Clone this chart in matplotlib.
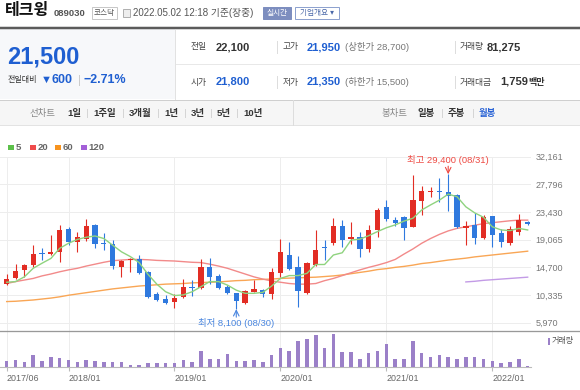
import matplotlib
matplotlib.use('Agg')
import matplotlib.pyplot as plt
from matplotlib.patches import Rectangle
from matplotlib.lines import Line2D
import numpy as np

FONT = ['Liberation Sans', 'Noto Sans CJK KR', 'DejaVu Sans']
plt.rcParams['font.family'] = FONT

# monthly candles, 2017/06 .. 2022/05
opens = [12150, 12950, 14300, 15050, 17000, 16800, 17150, 20700, 18650, 19250,
         21450, 18500, 18400, 14800, 15850, 16000, 14000, 10450, 9650, 9300,
         9950, 11650, 11500, 14800, 13400, 11650, 10600, 9100, 10850, 11100,
         10500, 13750, 16650, 14800, 10700, 15050, 17950, 18500, 21250, 19100,
         19450, 17600, 20600, 24150, 22150, 22600, 21100, 25200, 26550, 26800,
         26550, 26050, 20850, 21400, 19300, 22800, 20150, 18500, 20300, 21800]
highs = [13650, 15150, 15200, 18300, 17700, 19750, 21400, 21000, 20300, 22400,
         21500, 20050, 19000, 15850, 16100, 16650, 14150, 10750, 10350, 10450,
         12850, 12700, 15950, 16200, 13650, 11900, 10700, 11100, 12700, 11300,
         14550, 19250, 18650, 16550, 15600, 20600, 19000, 22550, 22250, 21900,
         20350, 21400, 24000, 25300, 22600, 22800, 29250, 27550, 27450, 28750,
         29400, 26250, 22050, 23200, 22950, 22800, 20700, 21250, 23100, 21950]
lows = [11900, 12800, 13200, 14800, 15850, 16650, 15600, 18200, 17150, 18900,
        17700, 17450, 14400, 13200, 14000, 13650, 9900, 9450, 8900, 8250,
        9900, 10250, 11350, 12050, 11300, 10500, 8100, 8950, 10750, 10050,
        9700, 13200, 14300, 8500, 10500, 14900, 15850, 18200, 17950, 18400,
        16400, 17050, 19550, 22050, 21200, 19000, 21000, 22950, 25850, 25050,
        23650, 20850, 18200, 18400, 19100, 17850, 17950, 18200, 19800, 21350]
closes = [12850, 14150, 15050, 16800, 16800, 17050, 20600, 18650, 19450, 21250,
          18350, 18400, 14900, 15750, 16000, 13750, 10050, 9550, 9150, 9900,
          11550, 11500, 14800, 13250, 11450, 10600, 9400, 10950, 11250, 10500,
          13900, 17050, 14450, 10950, 15450, 17450, 17700, 21250, 19000, 19450,
          17550, 20600, 23750, 22300, 21750, 20850, 25300, 26800, 26650, 26550,
          26000, 21000, 21250, 19300, 22700, 19800, 18750, 20700, 22250, 21500]

ma5 = [12350, 12450, 13200, 14550, 15350, 16100, 17700, 18500, 19100, 19450,
       19650, 19250, 18200, 17150, 16400, 15450, 13600, 12050, 10850, 10250,
       10350, 10850, 11650, 12450, 12450, 11900, 11100, 10600, 10600, 10750,
       11750, 12950, 13400, 13400, 13750, 15150, 15150, 16650, 17000, 19000,
       19150, 19700, 20350, 20950, 21400, 22000, 22450, 23750, 24550, 25300,
       26250, 25850, 24250, 23300, 22600, 21100, 20600, 20500, 20850, 20600]
ma20 = [12150, 12450, 12700, 12950, 13350, 13650, 14000, 14300, 14550, 14900,
        15200, 15500, 15750, 15850, 15950, 15950, 15900, 15800, 15750, 15700,
        15600, 15500, 15450, 15200, 14900, 14550, 14100, 13650, 13200, 12850,
        12550, 12350, 12150, 12050, 12050, 12150, 12600, 12950, 13400, 13850,
        14300, 14700, 15050, 15450, 15950, 16800, 17600, 18500, 19250, 19900,
        20450, 20850, 21100, 21350, 21600, 21750, 21900, 22050, 22150, 22150]
ma60 = [9300, 9350, 9450, 9550, 9700, 9850, 10050, 10300, 10500, 10700,
        10900, 11100, 11300, 11450, 11600, 11750, 11850, 11950, 12050, 12100,
        12150, 12250, 12300, 12350, 12400, 12500, 12600, 12650, 12750, 12800,
        12850, 12950, 13000, 13050, 13100, 13150, 13250, 13350, 13500, 13700,
        13900, 14100, 14350, 14500, 14700, 14850, 15050, 15300, 15450, 15650,
        15850, 16000, 16150, 16350, 16500, 16650, 16800, 16950, 17100, 17250]
ma120_start = 52
ma120 = [12400, 12500, 12650, 12750, 12850, 12950, 13050, 13150]

# relative monthly volume (bar heights)
volume = [17, 19, 14, 34, 17, 27, 25, 20, 14, 19, 17, 15, 15, 13, 7, 7, 12, 12, 12, 10,
          19, 13, 45, 22, 24, 37, 17, 17, 19, 14, 35, 54, 45, 74, 79, 92, 54, 94, 42, 42,
          22, 40, 45, 65, 24, 22, 75, 40, 27, 35, 29, 22, 27, 27, 24, 17, 12, 15, 22, 2]

tick_idx = [0, 7, 19, 31, 43, 55]
tick_labels = ['2017/06', '2018/01', '2019/01', '2020/01', '2021/01', '2022/01']
price_ticks = [5970, 10335, 14700, 19065, 23430, 27796, 32161]

W, H = 580, 390
fig = plt.figure(figsize=(W / 100, H / 100), dpi=100)
fig.patch.set_facecolor('white')


def fx(x):
    return x / W


def fy(y):
    return 1 - y / H


def txt(x, y, s, size=7, color='#333333', weight='normal', ha='left'):
    fig.text(fx(x), fy(y), s, fontsize=size, color=color, fontweight=weight,
             ha=ha, va='center', family=FONT)


def box(x0, y0, x1, y1, fc='none', ec='none', lw=1.0):
    fig.add_artist(Rectangle((fx(x0), fy(y1)), (x1 - x0) / W, (y1 - y0) / H,
                             transform=fig.transFigure, facecolor=fc,
                             edgecolor=ec, linewidth=lw * 0.72))


def hline(y, x0, x1, color, lw=1.0):
    fig.add_artist(Line2D([fx(x0), fx(x1)], [fy(y), fy(y)], color=color,
                          lw=lw * 0.72, transform=fig.transFigure))


def vline(x, y0, y1, color, lw=1.0):
    fig.add_artist(Line2D([fx(x), fx(x)], [fy(y0), fy(y1)], color=color,
                          lw=lw * 0.72, transform=fig.transFigure))


# ---- header
txt(5, 11, '테크윙', size=11.5, color='#111111', weight='bold')
txt(54, 13, '089030', size=6.8, color='#555555', weight='bold')
box(92, 7, 117, 19, fc='white', ec='#c8c8c8')
txt(104.5, 13, '코스닥', size=5.5, color='#555555', ha='center')
box(123, 9, 130, 17, fc='#eeeeee', ec='#b0b0b0')
txt(133, 13, '2022.05.02 12:18 기준(장중)', size=7, color='#555555')
box(263, 7, 291, 19, fc='#7d8ebf', ec='#7d8ebf')
txt(277, 13, '실시간', size=5.5, color='white', ha='center')
box(295, 7, 339, 19, fc='white', ec='#8ea2cf')
txt(317, 13, '기업개요 ▾', size=5.5, color='#4a68a8', ha='center')
hline(28, 0, 580, '#5b5b5b', lw=2.5)

# ---- quote panel
box(0, 29.5, 175, 99, fc='#f7f8fa')
vline(175, 29.5, 99, '#e2e2e2')
hline(64, 176, 580, '#e8e8e8')
hline(99.5, 0, 580, '#cfcfcf')
blue = '#1f5fd1'
txt(7, 57, '21,500', size=17, color=blue, weight='bold')
txt(8, 80, '전일대비', size=5.8, color='#333333')
txt(41, 80, '▼', size=8, color=blue)
txt(51, 80, '600', size=9, color=blue, weight='bold')
vline(79, 75, 85, '#cccccc')
txt(84, 80, '−2.71%', size=9, color=blue, weight='bold')

for y in (47, 82):
    vline(277, y - 6, y + 6, '#dddddd')
    vline(455, y - 6, y + 6, '#dddddd')
lab = dict(size=6.3, color='#444444')
txt(191, 47, '전일', **lab)
txt(216, 47, '22,100', size=8, color='#333333', weight='bold')
txt(283, 47, '고가', **lab)
txt(307, 47, '21,950', size=8, color=blue, weight='bold')
txt(345, 47, '(상한가 28,700)', size=6.8, color='#777777')
txt(460, 47, '거래량', **lab)
txt(487, 47, '81,275', size=8, color='#333333', weight='bold')
txt(191, 82, '시가', **lab)
txt(216, 82, '21,800', size=8, color=blue, weight='bold')
txt(283, 82, '저가', **lab)
txt(307, 82, '21,350', size=8, color=blue, weight='bold')
txt(345, 82, '(하한가 15,500)', size=6.8, color='#777777')
txt(460, 82, '거래대금', **lab)
txt(500, 82, '1,759', size=8, color='#333333', weight='bold')
txt(528, 82, '백만', size=6.5, color='#333333', weight='bold')

# ---- nav bar
box(0, 100, 580, 125, fc='#f6f6f6')
hline(125, 0, 580, '#e3e3e3')
vline(293, 100, 125, '#dddddd')
txt(30, 113, '선차트', size=6.8, color='#888888')
for x, s in [(67, '1일'), (93, '1주일'), (129, '3개월'), (164, '1년'),
             (191, '3년'), (217, '5년'), (243, '10년')]:
    txt(x, 113, s, size=6.8, color='#333333', weight='bold')
for x in (87, 123, 158, 185, 211, 237):
    vline(x, 109, 117, '#d5d5d5')
txt(381, 113, '봉차트', size=6.8, color='#888888')
txt(418, 113, '일봉', size=6.8, color='#333333', weight='bold')
vline(442, 109, 117, '#d5d5d5')
txt(448, 113, '주봉', size=6.8, color='#333333', weight='bold')
vline(473, 109, 117, '#d5d5d5')
txt(479, 113, '월봉', size=6.8, color='#2b64d6', weight='bold')

# ---- MA legend
leg = [('5', '#5cc04a', 8), ('20', '#ef4b4b', 30), ('60', '#f7931e', 55), ('120', '#a35fd8', 81)]
for s, c, lx in leg:
    box(lx, 145, lx + 5.5, 150.5, fc=c)
    txt(lx + 7.5, 148, s, size=6.8, color='#666666', weight='bold')

# ---- price chart
x = np.arange(len(closes))
x0_idx = -6.7 / 8.83
x1_idx = (531 - 6.7) / 8.83
ax = fig.add_axes([0, fy(331), 531 / W, (331 - 156.7) / H])
ax.set_xlim(x0_idx, x1_idx)
ax.set_ylim(4656, 32161)
ax.set_yticks(price_ticks)
ax.set_yticklabels([f'{v:,}' for v in price_ticks])
ax.yaxis.tick_right()
ax.tick_params(axis='y', length=0, pad=3, labelsize=6.5, labelcolor='#777777')
ax.set_xticks(tick_idx)
ax.tick_params(axis='x', length=0, labelbottom=False)
ax.grid(True, color='#ededed', lw=0.7)
ax.set_axisbelow(True)
for sp in ax.spines.values():
    sp.set_visible(False)
ax.patch.set_alpha(0)

ax.plot(x, ma60, color='#f9a655', lw=1.0, zorder=2)
ax.plot(x, ma20, color='#f28a8a', lw=1.0, zorder=2)
ax.plot(x[ma120_start:], ma120, color='#c39be6', lw=1.0, zorder=2)

up_c, dn_c = '#e22d24', '#2f79de'
for i in range(len(closes)):
    o, h, l, c = opens[i], highs[i], lows[i], closes[i]
    col = up_c if c >= o else dn_c
    ax.vlines(i, l, h, color=col, lw=0.8, zorder=3)
    bot = min(o, c)
    hgt = max(abs(c - o), 160)
    ax.bar(i, hgt, bottom=bot, width=0.6, color=col, zorder=4)

ax.plot(x, ma5, color='#8fd37f', lw=1.0, zorder=5)

hi_i, lo_i = 50, 26
ax.annotate('', xy=(hi_i, highs[hi_i]), xytext=(0, 8), textcoords='offset pixels',
            arrowprops=dict(arrowstyle='->', color='#ee4a43', lw=0.8, shrinkA=0, shrinkB=0))
ax.annotate('최고 29,400 (08/31)', xy=(hi_i, highs[hi_i]), xytext=(0, 14),
            textcoords='offset pixels', ha='center', va='center', fontsize=6.8,
            color='#ee4a43', annotation_clip=False, family=FONT)
ax.annotate('', xy=(lo_i, lows[lo_i]), xytext=(0, -8), textcoords='offset pixels',
            arrowprops=dict(arrowstyle='->', color='#4a86df', lw=0.8, shrinkA=0, shrinkB=0))
ax.annotate('최저 8,100 (08/30)', xy=(lo_i, lows[lo_i]), xytext=(0, -14),
            textcoords='offset pixels', ha='center', va='center', fontsize=6.8,
            color='#4a86df', annotation_clip=False, family=FONT)

hline(331, 0, 580, '#999999', lw=1.3)

# ---- volume chart
axv = fig.add_axes([0, fy(367), 531 / W, (367 - 331.8) / H])
axv.set_xlim(x0_idx, x1_idx)
axv.set_ylim(0, 100)
axv.bar(x, volume, width=0.4, color='#9b80c8', zorder=3)
axv.set_yticks([])
axv.set_xticks(tick_idx)
axv.set_xticklabels(tick_labels)
for lb in axv.get_xticklabels():
    lb.set_horizontalalignment('left')
axv.tick_params(axis='x', length=3, color='#bbbbbb', pad=2, labelsize=6.4,
                labelcolor='#666666')
axv.grid(True, axis='x', color='#ededed', lw=0.7)
axv.set_axisbelow(True)
for k, sp in axv.spines.items():
    sp.set_visible(k == 'bottom')
axv.spines['bottom'].set_color('#bbbbbb')
axv.spines['bottom'].set_linewidth(0.8)
axv.patch.set_alpha(0)

box(548, 337.5, 550, 344.5, fc='#9b80c8')
txt(552, 341, '거래량', size=5.8, color='#555555')

fig.savefig('out.png', dpi=100)
